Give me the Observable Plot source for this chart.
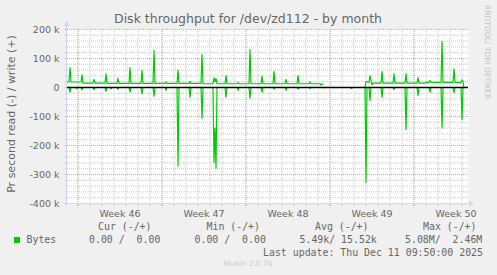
<!DOCTYPE html>
<html><head><meta charset="utf-8">
<script src="https://cdn.jsdelivr.net/npm/d3@7"></script>
<script src="https://cdn.jsdelivr.net/npm/@observablehq/plot@0.6"></script>
<style>
html,body{margin:0;padding:0;background:#f0f0f0;}
#chart{width:497px;height:275px;}
</style></head><body><div id="chart"></div>
<script>
// ---- texts ----
const title = "Disk throughput for /dev/zd112 - by month";
const yLabel = "Pr second read (-) / write (+)";
const watermark = "RRDTOOL/ TOBI OETIKER";
const footer = "Munin 2.0.76";
const lastUpdate = "Last update: Thu Dec 11 09:50:00 2025";
const seriesName = "Bytes";
const legendHeaders = ["Cur (-/+)", "Min (-/+)", "Avg (-/+)", "Max (-/+)"];
const legendValues = ["0.00 /  0.00", "0.00 /  0.00", "5.49k/ 15.52k", "5.08M/  2.46M"];
// ---- axes ----
const weekLabels = ["Week 46", "Week 47", "Week 48", "Week 49", "Week 50"];
const weekStarts = ["2025-11-09", "2025-11-16", "2025-11-23", "2025-11-30", "2025-12-07"];
const xDomain = ["11-08 03", "12-11 13"];
const yDomain = [-400000, 200000];
const yTicks = [-400000, -300000, -200000, -100000, 0, 100000, 200000];
// ---- write (+), kB/s ----
const writeTimes = [
 "11-08 03","11-08 06","11-08 08","11-08 10","11-09 06","11-09 08","11-09 10",
 "11-10 06","11-10 08","11-10 10","11-11 06","11-11 08","11-11 10",
 "11-12 06","11-12 08","11-12 10","11-13 06","11-13 08","11-13 10",
 "11-14 06","11-14 08","11-14 10","11-15 06","11-15 08","11-15 10",
 "11-16 06","11-16 08","11-16 10","11-17 06","11-17 08","11-17 10",
 "11-18 06","11-18 08","11-18 10","11-19 06","11-19 08","11-19 10",
 "11-20 06","11-20 08","11-20 10","11-20 12","11-20 14",
 "11-21 06","11-21 08","11-21 10","11-22 06","11-22 08","11-22 10",
 "11-23 06","11-23 08","11-23 10","11-24 06","11-24 08","11-24 10",
 "11-25 06","11-25 08","11-25 10","11-26 06","11-26 08","11-26 10",
 "11-27 06","11-27 08","11-27 10","11-28 06","11-28 08","11-28 10",
 "11-29 04","11-29 06","11-29 08","11-29 10",
 "11-30 00",
 "12-02 22","12-03 00","12-03 06","12-03 08","12-03 12","12-03 14",
 "12-04 06","12-04 08","12-04 10","12-05 06","12-05 08","12-05 10",
 "12-06 06","12-06 08","12-06 10","12-07 06","12-07 08","12-07 10",
 "12-07 22","12-08 00","12-08 06","12-08 08","12-08 10",
 "12-09 06","12-09 08","12-09 10","12-10 06","12-10 08","12-10 10",
 "12-10 22","12-11 00","12-11 02","12-11 04"
];
const writeValues = [
 19,19,69,19,19,44,15,
 15,28,15,15,47,14,
 14,32,14,14,69,14,
 14,59,14,14,128,14,
 14,19,14,14,59,14,
 14,21,14,14,114,13,
 13,33,20,31,13,
 13,41,13,13,17,13,
 13,131,13,13,39,13,
 13,55,13,13,28,13,
 13,41,13,13,19,13,
 13,8,13,12,
 null,
 0,21,18,41,9,15,
 15,55,15,15,47,15,
 15,47,15,15,34,15,
 15,18,18,24,18,
 18,159,18,18,64,18,
 18,26,20,0
];
// ---- read (-), kB/s (drawn below zero) ----
const readTimes = [
 "11-08 03","11-08 06","11-08 08","11-08 10","11-08 20","11-08 22","11-09 00",
 "11-09 06","11-09 08","11-09 10","11-10 06","11-10 08","11-10 10",
 "11-11 06","11-11 08","11-11 10","11-11 16","11-11 18","11-11 20",
 "11-12 06","11-12 08","11-12 10","11-13 06","11-13 08","11-13 10",
 "11-14 06","11-14 08","11-14 10","11-15 06","11-15 08","11-15 10",
 "11-16 06","11-16 08","11-16 10","11-17 06","11-17 08","11-17 10",
 "11-18 06","11-18 08","11-18 10","11-19 06","11-19 08","11-19 10",
 "11-20 06","11-20 08","11-20 10","11-20 12","11-20 14",
 "11-21 06","11-21 08","11-21 10","11-22 06","11-22 08","11-22 10",
 "11-23 06","11-23 08","11-23 10","11-24 06","11-24 08","11-24 10",
 "11-25 06","11-25 08","11-25 10","11-26 06","11-26 08","11-26 10",
 "11-27 06","11-27 08","11-27 10","11-28 06","11-28 08","11-28 10",
 "11-29 10","11-30 00",
 "12-01 18","12-01 20","12-02 00",
 "12-02 22","12-03 00","12-03 02","12-03 06","12-03 08","12-03 10",
 "12-04 06","12-04 08","12-04 10","12-05 06","12-05 08","12-05 10",
 "12-06 06","12-06 08","12-06 10","12-07 06","12-07 08","12-07 10",
 "12-08 06","12-08 08","12-08 10","12-09 06","12-09 08","12-09 10",
 "12-10 06","12-10 08","12-10 10","12-10 22","12-11 00","12-11 02","12-11 04"
];
const readValues = [
 0,0,16,0,0,4,0,
 0,8,0,0,8,0,
 0,13,0,0,4,0,
 0,6,0,0,15,0,
 0,22,0,0,30,0,
 0,10,0,0,271,0,
 0,33,0,0,106,0,
 0,258,140,278,0,
 0,33,0,0,10,0,
 0,37,0,0,16,0,
 0,5,0,0,10,0,
 0,5,0,0,3,0,
 0,null,
 3,3,null,
 0,327,0,0,45,0,
 0,33,0,0,7,0,
 0,146,0,0,28,0,
 0,16,0,0,140,0,
 0,18,0,0,111,0,0
];

const parseT = s => d3.utcParse("%Y-%m-%d %H")("2025-" + s);
const parseD = d3.utcParse("%Y-%m-%d");
const writeData = writeTimes.map((t, i) => ({t: parseT(t), v: writeValues[i] == null ? NaN : writeValues[i] * 1000}));
const readData = readTimes.map((t, i) => ({t: parseT(t), v: readValues[i] == null ? NaN : -readValues[i] * 1000}));
const xd = xDomain.map(parseT);
const weeks = weekStarts.map(parseD);
const weekMid = weeks.map(d => new Date(+d + 3.5 * 864e5));
const labelOf = new Map(weekMid.map((d, i) => [+d, weekLabels[i]]));
const days = d3.utcDay.range(d3.utcDay.ceil(xd[0]), xd[1]);
const yMinor = d3.range(yDomain[0], yDomain[1] + 1, 20000);

const GREEN = "#00cc00", FONT = "#666666", AXIS = "#cfd6f8";
const GRID = "#c8c8c8", MGRID = "#f0a0a0";

const plot = Plot.plot({
  width: 497, height: 275,
  marginLeft: 67, marginRight: 29, marginTop: 29, marginBottom: 72,
  x: {type: "utc", domain: xd},
  y: {domain: yDomain},
  style: {fontFamily: "DejaVu Sans", fontSize: "9.5px", color: FONT, background: "#f0f0f0", overflow: "visible"},
  marks: [
    Plot.frame({fill: "white", stroke: null}),
    Plot.gridY(yMinor, {stroke: GRID, strokeOpacity: 1, strokeDasharray: "1,1"}),
    Plot.gridX(days, {stroke: GRID, strokeOpacity: 1, strokeDasharray: "1,1"}),
    Plot.gridY(yTicks, {stroke: MGRID, strokeOpacity: 1, strokeDasharray: "1,1"}),
    Plot.gridX(weeks, {stroke: MGRID, strokeOpacity: 1, strokeDasharray: "1,1"}),
    Plot.axisX(days, {tickSize: 3, tickFormat: () => "", stroke: GRID, label: null}),
    Plot.axisX(weeks, {tickSize: 3, tickFormat: () => "", stroke: MGRID, label: null}),
    Plot.axisY(yMinor, {tickSize: 2, tickFormat: () => "", stroke: GRID, label: null}),
    Plot.axisY(yTicks, {tickSize: 2, tickFormat: () => "", stroke: MGRID, label: null}),
    Plot.line(readData, {x: "t", y: "v", stroke: GREEN, strokeWidth: 1.2}),
    Plot.line(writeData, {x: "t", y: "v", stroke: GREEN, strokeWidth: 1.2}),
    Plot.ruleY([0], {stroke: "#000", strokeWidth: 1.3}),
    Plot.axisY(yTicks, {tickSize: 0, tickPadding: 8, tickFormat: d => d === 0 ? "0" : (d / 1000) + " k", label: null, fill: FONT}),
    Plot.axisX(weekMid, {tickSize: 0, tickPadding: 7, tickFormat: d => labelOf.get(+d), label: null, fill: FONT})
  ]
});

document.getElementById("chart").appendChild(plot);
const svg = d3.select(plot);
const [x0, x1] = plot.scale("x").range;
const [yb, yt] = plot.scale("y").range;
const nb = s => s.replace(/ /g, "\u00a0");

// axis lines with arrows
const g = svg.append("g");
g.append("line").attr("x1", x0 - 0.5).attr("x2", x0 - 0.5).attr("y1", yb + 3).attr("y2", yt - 6).attr("stroke", AXIS);
g.append("path").attr("d", `M${x0 - 3.5},${yt - 3} L${x0 - 0.5},${yt - 8} L${x0 + 2.5},${yt - 3} Z`).attr("fill", AXIS);
g.append("line").attr("x1", x0 - 3).attr("x2", x1 + 2).attr("y1", yb + 0.5).attr("y2", yb + 0.5).attr("stroke", AXIS);
g.append("path").attr("d", `M${x1 + 1},${yb - 2.5} L${x1 + 6},${yb + 0.5} L${x1 + 1},${yb + 3.5} Z`).attr("fill", AXIS);

const sans = "DejaVu Sans", mono = "DejaVu Sans Mono";
const txt = () => svg.append("text").attr("text-anchor", "start");
txt().attr("x", 248).attr("y", 23).attr("text-anchor", "middle")
  .attr("font-family", sans).attr("font-size", 12.5).attr("fill", FONT).text(title);
txt().attr("transform", "translate(15,114) rotate(-90)").attr("text-anchor", "middle")
  .attr("font-family", sans).attr("font-size", 11).attr("fill", FONT).text(yLabel);
txt().attr("transform", "translate(484.5,5) rotate(90)")
  .attr("font-family", sans).attr("font-size", 7.5).attr("fill", "#c4c4c4").text(watermark);

const headX = [98, 206.5, 315, 423];
const valX = [89, 194.5, 299.5, 405];
legendHeaders.forEach((h, i) => {
  txt().attr("x", headX[i]).attr("y", 230).attr("font-family", mono).attr("font-size", 9.9)
    .attr("fill", FONT).text(nb(h));
});
svg.append("rect").attr("x", 14).attr("y", 237).attr("width", 6).attr("height", 6).attr("fill", GREEN);
txt().attr("x", 26.5).attr("y", 243).attr("font-family", mono).attr("font-size", 9.9)
  .attr("fill", FONT).text(seriesName);
legendValues.forEach((v, i) => {
  txt().attr("x", valX[i]).attr("y", 243).attr("font-family", mono).attr("font-size", 9.9)
    .attr("fill", FONT).text(nb(v));
});
txt().attr("x", 483).attr("y", 255.5).attr("text-anchor", "end").attr("font-family", mono)
  .attr("font-size", 9.9).attr("fill", FONT).text(nb(lastUpdate));
txt().attr("x", 248).attr("y", 266).attr("text-anchor", "middle").attr("font-family", sans)
  .attr("font-size", 7.5).attr("fill", "#cccccc").text(footer);
</script>
</body></html>
